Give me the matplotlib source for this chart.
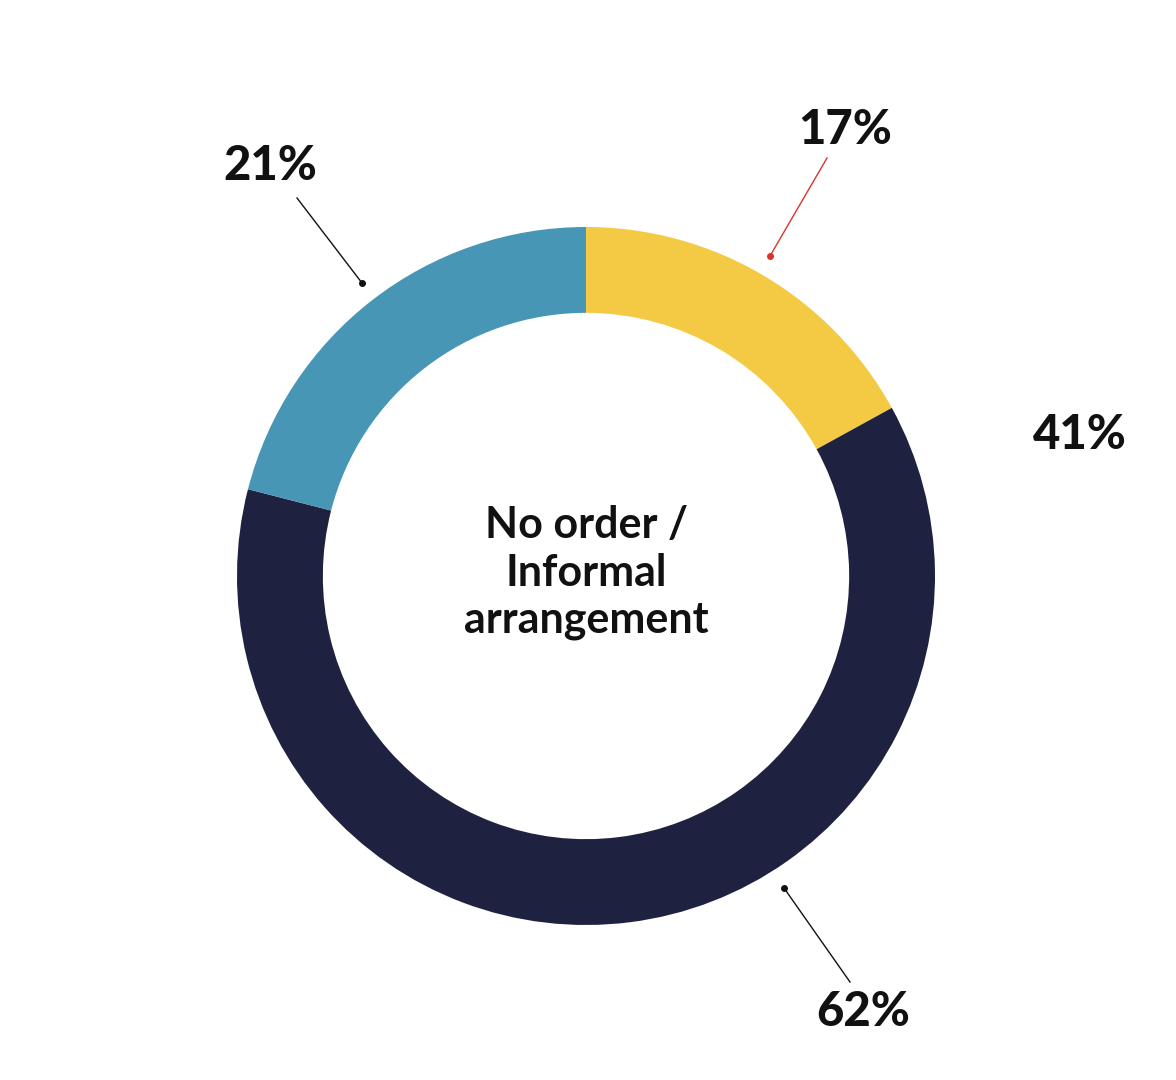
import matplotlib
matplotlib.use("Agg")
import matplotlib.pyplot as plt
import numpy as np

categories = ["Yellow", "Navy", "Blue"]
values = [17, 62, 21]
labels = ["17%", "62%", "21%"]
colors = ["#F4CA45", "#1E2240", "#4896B5"]
extra_label = "41%"
center_text = "No order /\nInformal\narrangement"

W, H = 1176, 1080
cx, cy, R = 586, 576, 349.0
fig = plt.figure(figsize=(W / 100, H / 100), dpi=100)
ax = fig.add_axes([0, 0, 1, 1])

ax.pie(values, colors=colors, startangle=90, counterclock=False, radius=1.0,
       wedgeprops=dict(width=0.246, edgecolor="none", antialiased=True),
       center=(0, 0), frame=True)
ax.set_xlim(-cx / R, (W - cx) / R)
ax.set_ylim(-(H - cy) / R, cy / R)
ax.set_aspect("equal")
ax.axis("off")

def p(x, y):
    return ((x - cx) / R, (cy - y) / R)

font = "Lato"
ann = [
    (labels[0], p(845, 130), p(827, 158), p(770, 256), "#D9342B"),
    (labels[2], p(270, 166), p(297, 198), p(362, 283), "#111111"),
    (labels[1], p(863, 1012), p(850, 982), p(784, 888), "#111111"),
]
for txt, tp, ls, dp, c in ann:
    ax.text(tp[0], tp[1], txt, ha="center", va="center", fontsize=34,
            fontweight=900, family=font, color="#111111")
    ax.plot([ls[0], dp[0]], [ls[1], dp[1]], color=c, lw=1.0)
    ax.plot([dp[0]], [dp[1]], "o", color=c, ms=4)

tp = p(1080, 435)
ax.text(tp[0], tp[1], extra_label, ha="center", va="center", fontsize=34,
        fontweight=900, family=font, color="#111111")

ax.text(0, 0.009, center_text, ha="center", va="center", fontsize=31,
        fontweight="bold", family=font, color="#111111", linespacing=1.22)

fig.savefig("out.png", dpi=100, facecolor="white")
